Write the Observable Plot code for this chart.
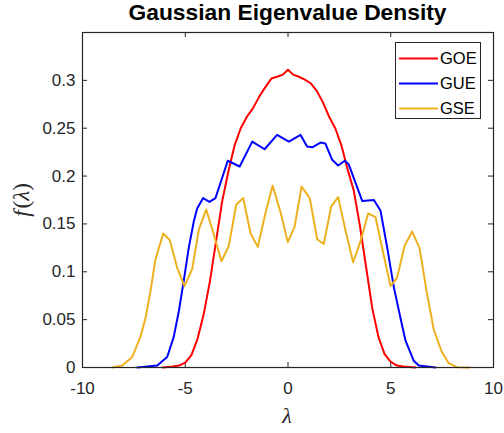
<!DOCTYPE html>
<html><head><meta charset="utf-8">
<script src="https://cdn.jsdelivr.net/npm/d3@7"></script>
<script src="https://cdn.jsdelivr.net/npm/@observablehq/plot@0.6"></script>
<style>
body{margin:0;background:#fff;}
#wrap{position:relative;width:504px;height:433px;font-family:"Liberation Sans",Arial,sans-serif;overflow:hidden;}
#chart{position:absolute;left:0;top:0;}
#title{position:absolute;left:82px;width:411px;top:0px;text-align:center;font-weight:bold;font-size:22.8px;line-height:25px;color:#000;white-space:nowrap;}
#ylabel{position:absolute;left:22px;top:200px;transform:translate(-50%,-50%) rotate(-90deg);font-family:"Liberation Serif","DejaVu Serif",serif;font-size:23px;color:#262626;white-space:nowrap;}
#xlabel{position:absolute;left:287px;top:416px;transform:translate(-50%,-50%);font-family:"Liberation Serif","DejaVu Serif",serif;font-style:italic;font-size:22px;color:#262626;}
#legend{position:absolute;left:395px;top:42px;width:86px;height:77px;border:1px solid #262626;background:#fff;box-sizing:border-box;}
.row{position:absolute;left:0;height:24px;width:100%;}
.row svg{position:absolute;left:3px;top:11px;}
.row span{position:absolute;left:44px;top:0;font-size:16.5px;line-height:24px;color:#000;}
</style>
</head><body>
<div id="wrap">
  <div id="chart"></div>
  <div id="title">Gaussian Eigenvalue Density</div>
  <div id="ylabel"><i>f</i>&#8202;(<i>λ</i>)</div>
  <div id="xlabel">λ</div>
  <div id="legend"></div>
</div>
<script>
// ---- data ----
const seriesNames = ["GOE", "GUE", "GSE"];
const seriesColors = ["#ff0000", "#0000ff", "#EDB120"];

const goeX = [-6.1, -5.6, -5.3, -5.0, -4.7, -4.4, -4.1, -3.8, -3.5, -3.2, -2.9, -2.6, -2.3, -2.0, -1.7, -1.4, -1.1, -0.8, -0.5, -0.25, 0, 0.25, 0.5, 0.8, 1.1, 1.4, 1.7, 2.0, 2.3, 2.6, 2.9, 3.2, 3.5, 3.8, 4.1, 4.4, 4.7, 5.0, 5.3, 5.6, 6.2];
const goeY = [0, 0.001, 0.002, 0.005, 0.013, 0.03, 0.056, 0.09, 0.132, 0.174, 0.205, 0.232, 0.25, 0.262, 0.271, 0.283, 0.293, 0.302, 0.304, 0.306, 0.311, 0.306, 0.304, 0.301, 0.297, 0.289, 0.277, 0.262, 0.25, 0.232, 0.207, 0.185, 0.148, 0.105, 0.062, 0.032, 0.014, 0.006, 0.002, 0.001, 0];

const gueX = [-7.34, -6.36, -5.88, -5.56, -5.31, -5.07, -4.83, -4.58, -4.42, -4.13, -3.82, -3.53, -2.93, -2.35, -1.74, -1.14, -0.53, 0.04, 0.61, 0.93, 1.18, 1.58, 1.82, 2.15, 2.44, 2.76, 2.96, 3.61, 4.18, 4.5, 4.83, 5.15, 5.47, 5.72, 6.12, 6.36, 7.18];
const gueY = [0, 0.002, 0.011, 0.032, 0.059, 0.091, 0.125, 0.153, 0.166, 0.177, 0.173, 0.177, 0.216, 0.21, 0.236, 0.228, 0.243, 0.236, 0.243, 0.231, 0.23, 0.235, 0.234, 0.217, 0.211, 0.216, 0.212, 0.174, 0.175, 0.164, 0.125, 0.084, 0.052, 0.028, 0.007, 0.002, 0];

const gseX = [-8.55, -8.07, -7.58, -7.18, -6.93, -6.69, -6.45, -6.07, -5.75, -5.39, -5.04, -4.66, -4.34, -3.98, -3.61, -3.24, -2.88, -2.52, -2.18, -1.82, -1.47, -1.09, -0.75, -0.36, -0.01, 0.32, 0.66, 1.06, 1.42, 1.74, 2.10, 2.44, 2.80, 3.17, 3.53, 3.90, 4.26, 4.61, 4.99, 5.31, 5.67, 6.04, 6.40, 6.74, 7.09, 7.47, 7.82, 8.23, 8.83];
const gseY = [0, 0.002, 0.011, 0.032, 0.052, 0.08, 0.113, 0.14, 0.133, 0.104, 0.085, 0.103, 0.144, 0.165, 0.139, 0.111, 0.127, 0.17, 0.177, 0.14, 0.126, 0.162, 0.19, 0.162, 0.131, 0.147, 0.189, 0.177, 0.134, 0.129, 0.168, 0.178, 0.143, 0.11, 0.132, 0.161, 0.157, 0.122, 0.085, 0.094, 0.127, 0.142, 0.125, 0.08, 0.04, 0.017, 0.0045, 0.0003, 0];

const xTicks = [-10, -5, 0, 5, 10];
const yTicks = [0, 0.05, 0.1, 0.15, 0.2, 0.25, 0.3];
const xDomain = [-10, 10];
const yDomain = [0, 0.35];

// ---- build tables ----
const toRows = (xs, ys) => xs.map((x, i) => ({x, y: ys[i]}));
const tables = [toRows(goeX, goeY), toRows(gueX, gueY), toRows(gseX, gseY)];

const axisColor = "#262626";
const chart = Plot.plot({
  width: 504,
  height: 433,
  marginLeft: 82,
  marginRight: 11,
  marginTop: 32,
  marginBottom: 66,
  style: {fontFamily: "'Liberation Sans', Arial, sans-serif", fontSize: "17px", color: axisColor, background: "white", overflow: "visible"},
  x: {domain: xDomain, ticks: xTicks, tickSize: 0, tickPadding: 14, label: null, tickFormat: d => String(d)},
  y: {domain: yDomain, ticks: yTicks, tickSize: 0, tickPadding: 7, label: null, tickFormat: d => d === 0 ? "0" : d3.format("~g")(d)},
  marks: [
    Plot.ruleX(xTicks, {x: d => d, insetTop: 330, stroke: axisColor}),
    Plot.ruleX(xTicks, {x: d => d, insetBottom: 330, stroke: axisColor}),
    Plot.ruleY(yTicks, {y: d => d, insetRight: 406, stroke: axisColor}),
    Plot.ruleY(yTicks, {y: d => d, insetLeft: 406, stroke: axisColor}),
    ...tables.map((t, i) => Plot.line(t, {x: "x", y: "y", stroke: seriesColors[i], strokeWidth: 2})),
    Plot.frame({stroke: axisColor, strokeWidth: 1.2})
  ]
});
document.getElementById("chart").appendChild(chart);

// ---- legend ----
const legend = document.getElementById("legend");
seriesNames.forEach((name, i) => {
  const row = document.createElement("div");
  row.className = "row";
  row.style.top = (3 + i * 25) + "px";
  row.innerHTML = `<svg width="39" height="3"><line x1="0" y1="1.5" x2="39" y2="1.5" stroke="${seriesColors[i]}" stroke-width="2"/></svg><span>${name}</span>`;
  legend.appendChild(row);
});
</script>
</body></html>
